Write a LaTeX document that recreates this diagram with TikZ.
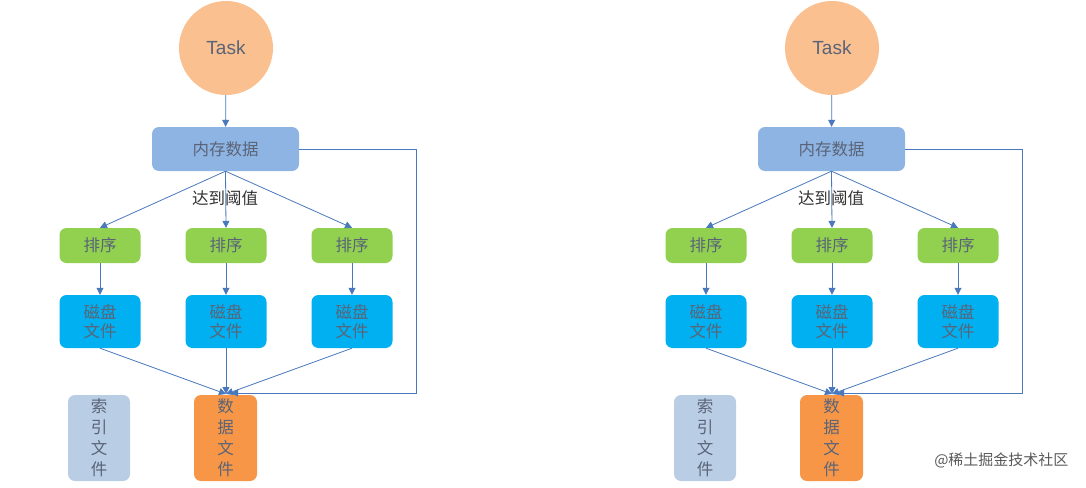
\documentclass[tikz,border=0pt]{standalone}
\usepackage{fontspec}
\setmainfont{Liberation Sans}
\newfontfamily\cjk{Noto Sans CJK SC}
\usetikzlibrary{arrows.meta}
\definecolor{edge}{HTML}{4A78BD}
\definecolor{txt}{HTML}{5A6478}
\definecolor{cmem}{HTML}{8EB4E3}
\definecolor{csort}{HTML}{92D050}
\definecolor{cdisk}{HTML}{00B0F0}
\definecolor{cidx}{HTML}{B9CDE5}
\definecolor{cdata}{HTML}{F79646}
\definecolor{ctask}{HTML}{FAC090}
\begin{document}
\begin{tikzpicture}[x=1pt,y=-1pt,
  box/.style={rounded corners=7pt,draw=none,minimum width=#1,inner sep=0pt,text=txt,font=\cjk\fontsize{16.5}{18}\selectfont,align=center},
  ar/.style={draw=edge,line width=0.8pt,-{Triangle[length=7pt,width=7pt]}}]
\useasboundingbox (0,0) rectangle (1086,487);
\foreach \s/\dx in {L/0,R/606}{
\begin{scope}[xshift=\dx]
\node[circle,fill=ctask,minimum size=94pt,inner sep=0pt,text=txt,font=\fontsize{19}{22}\selectfont] (task\s) at (226,48) {Task};
\node[box=147pt,minimum height=44pt,fill=cmem] (mem\s) at (225.5,149) {内存数据};
\node[text=black!80,font=\cjk\fontsize{16.5}{18}\selectfont] (thr\s) at (225,198) {达到阈值};
\foreach \i/\x in {1/100,2/226,3/352}{
  \node[box=81pt,minimum height=35pt,fill=csort] (sort\s\i) at (\x,245.5) {排序};
  \node[box=81pt,minimum height=53pt,fill=cdisk] (disk\s\i) at (\x,321.5) {磁盘\\[1pt]文件};
  \draw[ar] (sort\s\i) -- (disk\s\i);
}
\node[box=62pt,minimum height=86pt,fill=cidx] (idx\s) at (99,438) {索\\[3pt]引\\[3pt]文\\[3pt]件};
\node[box=63pt,minimum height=86pt,fill=cdata] (data\s) at (225.5,438) {数\\[3pt]据\\[3pt]文\\[3pt]件};
\coordinate (tgt\s) at (226,394);
\draw[ar] (task\s) -- (mem\s);
\draw[ar] (mem\s.south) -- (sort\s1.north);
\draw[ar] (mem\s.south) -- (sort\s2.north);
\draw[ar] (mem\s.south) -- (sort\s3.north);
\draw[ar] (disk\s1.south) -- (tgt\s);
\draw[ar] (disk\s2.south) -- (tgt\s);
\draw[ar] (disk\s3.south) -- (tgt\s);
\coordinate (c1\s) at (416,149);
\coordinate (c2\s) at (416,393);
\coordinate (c3\s) at (231,393);
\draw[ar] (mem\s.east) -- (c1\s) -- (c2\s) -- (c3\s);
\end{scope}}
\node[text=black!65,font=\cjk\fontsize{15}{17}\selectfont,anchor=east] (wm) at (1072,460) {@稀土掘金技术社区};
\end{tikzpicture}
\end{document}
